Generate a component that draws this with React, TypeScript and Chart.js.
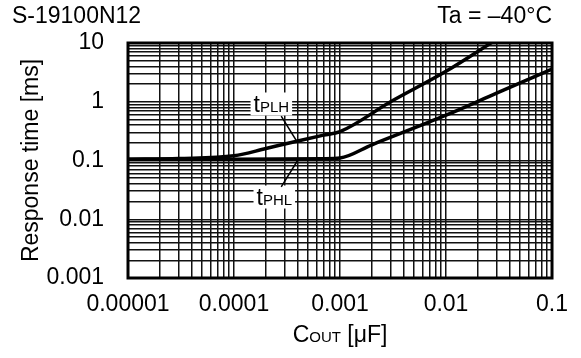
import React, { useEffect, useRef } from 'react';
import { Chart, registerables } from 'chart.js';

Chart.register(...registerables);

// ---- data ----
const COUT_PLH = [0.00001, 0.00003, 0.0001, 0.0002, 0.0004, 0.0007, 0.001, 0.003, 0.01, 0.03];
const T_PLH = [0.105, 0.108, 0.12, 0.16, 0.215, 0.27, 0.31, 1.0, 3.3, 11.5];
const COUT_PHL = [0.00001, 0.0001, 0.0007, 0.001, 0.002, 0.01, 0.03, 0.1];
const T_PHL = [0.105, 0.105, 0.107, 0.11, 0.185, 0.59, 1.4, 3.6];

const X_DECADES = [0.00001, 0.0001, 0.001, 0.01, 0.1];
const X_TICK_LABELS = ['0.00001', '0.0001', '0.001', '0.01', '0.1'];
const Y_DECADES = [0.001, 0.01, 0.1, 1, 10];
const Y_TICK_LABELS = ['0.001', '0.01', '0.1', '1', '10'];

const CHART_TITLE = 'S-19100N12';
const CONDITION = 'Ta = \u201340\u00b0C';
const Y_TITLE = 'Response time [ms]';

// annotation anchors in data coordinates
const PLH_NOTE = { label: ['t', 'PLH'], at: [0.000225, 0.916], from: [0.000279, 0.57], to: [0.000385, 0.222] };
const PHL_NOTE = { label: ['t', 'PHL'], at: [0.00024, 0.0239], from: [0.000279, 0.0356], to: [0.000402, 0.103] };

const FONT = '"Liberation Sans", Arial, Helvetica, sans-serif';
const BIG = 23;
const SMALL = 15;

function gridValues(decades: number[]) {
  const out: number[] = [];
  for (let i = 0; i < decades.length - 1; i++) {
    for (let m = 1; m <= 9; m++) out.push(decades[i] * m);
  }
  out.push(decades[decades.length - 1]);
  return out;
}

function labelFor(decades: number[], labels: string[], v: number) {
  const i = decades.findIndex((d) => Math.abs(d - v) / d < 1e-6);
  return i >= 0 ? labels[i] : '';
}

function drawParts(ctx: CanvasRenderingContext2D, parts: [string, number][], cx: number, baseline: number) {
  let total = 0;
  const widths = parts.map(([t, s]) => {
    ctx.font = `${s}px ${FONT}`;
    const w = ctx.measureText(t).width;
    total += w;
    return w;
  });
  let x = cx - total / 2;
  ctx.textAlign = 'left';
  ctx.textBaseline = 'alphabetic';
  parts.forEach(([t, s], i) => {
    ctx.font = `${s}px ${FONT}`;
    ctx.fillText(t, x, baseline);
    x += widths[i];
  });
  return total;
}

const decorPlugin = {
  id: 'decor',
  afterDatasetsDraw(chart: any) {
    const ctx: CanvasRenderingContext2D = chart.ctx;
    const xs = chart.scales.x;
    const ys = chart.scales.y;
    ctx.save();
    [PLH_NOTE, PHL_NOTE].forEach((n) => {
      const cx = xs.getPixelForValue(n.at[0]);
      const cy = ys.getPixelForValue(n.at[1]);
      ctx.font = `${BIG}px ${FONT}`;
      const w1 = ctx.measureText(n.label[0]).width;
      ctx.font = `${SMALL}px ${FONT}`;
      const w2 = ctx.measureText(n.label[1]).width;
      const w = w1 + w2 + 6;
      ctx.fillStyle = '#fff';
      ctx.fillRect(cx - w / 2, cy - 11.5, w, 23);
      ctx.fillStyle = '#000';
      drawParts(ctx, [[n.label[0], BIG], [n.label[1], SMALL]], cx, cy + 8);
      ctx.strokeStyle = '#000';
      ctx.lineWidth = 1.5;
      ctx.beginPath();
      ctx.moveTo(xs.getPixelForValue(n.from[0]), ys.getPixelForValue(n.from[1]));
      ctx.lineTo(xs.getPixelForValue(n.to[0]), ys.getPixelForValue(n.to[1]));
      ctx.stroke();
    });
    ctx.restore();
  },
  afterDraw(chart: any) {
    const ctx: CanvasRenderingContext2D = chart.ctx;
    const a = chart.chartArea;
    ctx.save();
    ctx.strokeStyle = '#000';
    ctx.lineWidth = 3;
    ctx.strokeRect(a.left, a.top, a.right - a.left, a.bottom - a.top);
    ctx.fillStyle = '#000';
    ctx.font = `${BIG}px ${FONT}`;
    ctx.textBaseline = 'middle';
    ctx.textAlign = 'left';
    ctx.fillText(CHART_TITLE, 12, 17);
    ctx.textAlign = 'right';
    ctx.fillText(CONDITION, a.right, 17);
    drawParts(ctx, [['C', BIG], ['OUT', SMALL], [' [\u03bcF]', BIG]], (a.left + a.right) / 2, 342);
    ctx.restore();
  },
};

export default function App() {
  const ref = useRef<HTMLCanvasElement>(null);
  useEffect(() => {
    if (!ref.current) return;
    const tickFont = { family: FONT, size: BIG };
    const chart = new Chart(ref.current, {
      type: 'line',
      data: {
        datasets: [
          {
            label: 'tPLH',
            data: COUT_PLH.map((x, i) => ({ x, y: T_PLH[i] })),
            borderColor: '#000',
            borderWidth: 3.5,
            pointRadius: 0,
            cubicInterpolationMode: 'monotone',
            clip: 0,
          },
          {
            label: 'tPHL',
            data: COUT_PHL.map((x, i) => ({ x, y: T_PHL[i] })),
            borderColor: '#000',
            borderWidth: 3.5,
            pointRadius: 0,
            cubicInterpolationMode: 'monotone',
            clip: 0,
          },
        ],
      },
      options: {
        animation: false,
        responsive: false,
        devicePixelRatio: 1,
        layout: { padding: { left: 0, right: 24, top: 43, bottom: 0 } },
        plugins: { legend: { display: false }, tooltip: { enabled: false }, title: { display: false } },
        scales: {
          x: {
            type: 'logarithmic',
            min: 0.00001,
            max: 0.1,
            afterBuildTicks: (s: any) => {
              s.ticks = gridValues(X_DECADES).map((value) => ({ value }));
            },
            afterFit: (s: any) => {
              s.height = 80;
            },
            ticks: {
              autoSkip: false,
              maxRotation: 0,
              padding: 13,
              color: '#000',
              font: tickFont,
              callback: (v: any) => labelFor(X_DECADES, X_TICK_LABELS, Number(v)),
            },
            grid: { color: '#111', lineWidth: 1.5, drawTicks: false },
            border: { display: false },
          },
          y: {
            type: 'logarithmic',
            min: 0.001,
            max: 10,
            afterBuildTicks: (s: any) => {
              s.ticks = gridValues(Y_DECADES).map((value) => ({ value }));
            },
            afterFit: (s: any) => {
              s.width = 128;
            },
            ticks: {
              autoSkip: false,
              padding: 24,
              color: '#000',
              font: tickFont,
              callback: (v: any) => labelFor(Y_DECADES, Y_TICK_LABELS, Number(v)),
            },
            grid: { color: '#111', lineWidth: 1.5, drawTicks: false },
            border: { display: false },
            title: {
              display: true,
              text: Y_TITLE,
              color: '#000',
              font: { family: FONT, size: BIG },
              padding: { top: 18, bottom: 0 },
            },
          },
        },
      },
      plugins: [decorPlugin],
    } as any);
    return () => chart.destroy();
  }, []);
  return (
    <div style={{ position: 'fixed', left: 0, top: 0, width: 581, height: 358, background: '#fff' }}>
      <canvas ref={ref} width={581} height={358} />
    </div>
  );
}
